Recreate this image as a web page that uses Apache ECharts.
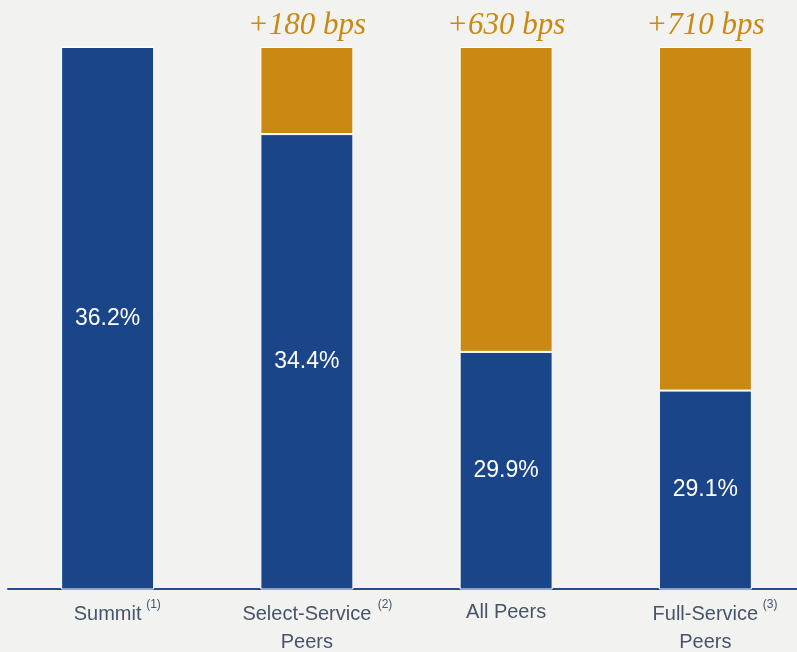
<!DOCTYPE html>
<html>
<head>
<meta charset="utf-8">
<script src="https://cdn.jsdelivr.net/npm/echarts@6/dist/echarts.min.js"></script>
<style>
  html, body { margin: 0; padding: 0; background: #f2f2f0; overflow: hidden; }
  #chart { width: 812px; height: 652px; }
</style>
</head>
<body>
<div id="chart"></div>
<script>
const categories = ['Summit', 'Select-Service', 'All Peers', 'Full-Service']
const secondLine = ['', 'Peers', '', 'Peers']
const notes = ['(1)', ' (2)', '', '(3)']
const margin = [36.2, 34.4, 29.9, 29.1]
const gapToSummit = [0, 1.8, 6.3, 7.1]
const gapLabels = ['', '+180 bps', '+630 bps', '+710 bps']

const BLUE = '#1a4588'
const GOLD = '#c98912'

const chart = echarts.init(document.getElementById('chart'))

function catLabel(value, idx) {
  const note = notes[idx]
  let first = note ? '{sp|}{name|' + value + '}{sup|' + note + '}' : '{name|' + value + '}'
  if (secondLine[idx]) first += '\n{name|' + secondLine[idx] + '}'
  return first
}

chart.setOption({
  backgroundColor: '#f2f2f0',
  animation: false,
  grid: { left: 8, right: 7, top: 47, bottom: 60 },
  xAxis: {
    type: 'category',
    data: categories,
    axisTick: { show: false },
    axisLine: { lineStyle: { color: '#2c4a8a', width: 2 } },
    axisLabel: {
      margin: 10,
      interval: 0,
      formatter: catLabel,
      rich: {
        name: { fontFamily: 'Liberation Sans', fontSize: 20, color: '#475469', lineHeight: 26 },
        sup: { fontFamily: 'Liberation Sans', fontSize: 12, color: '#475469', width: 22, align: 'left', padding: [0, 0, 18, 1] },
        sp: { width: 23 }
      }
    }
  },
  yAxis: { type: 'value', min: 25, max: 36.2, show: false },
  series: [
    {
      type: 'bar',
      stack: 'total',
      barWidth: 93,
      data: margin,
      itemStyle: { color: BLUE, borderColor: '#ffffff', borderWidth: 1 },
      label: {
        show: true,
        position: 'inside',
        formatter: (p) => p.value.toFixed(1) + '%',
        fontFamily: 'Liberation Sans',
        fontSize: 23,
        color: '#ffffff'
      }
    },
    {
      type: 'bar',
      stack: 'total',
      barWidth: 93,
      data: gapToSummit,
      itemStyle: { color: GOLD, borderColor: '#ffffff', borderWidth: 1 },
      label: {
        show: true,
        position: 'top',
        distance: 6,
        formatter: (p) => gapLabels[p.dataIndex],
        fontFamily: 'Liberation Serif',
        fontStyle: 'italic',
        fontSize: 31,
        color: GOLD
      }
    }
  ]
})
</script>
</body>
</html>
